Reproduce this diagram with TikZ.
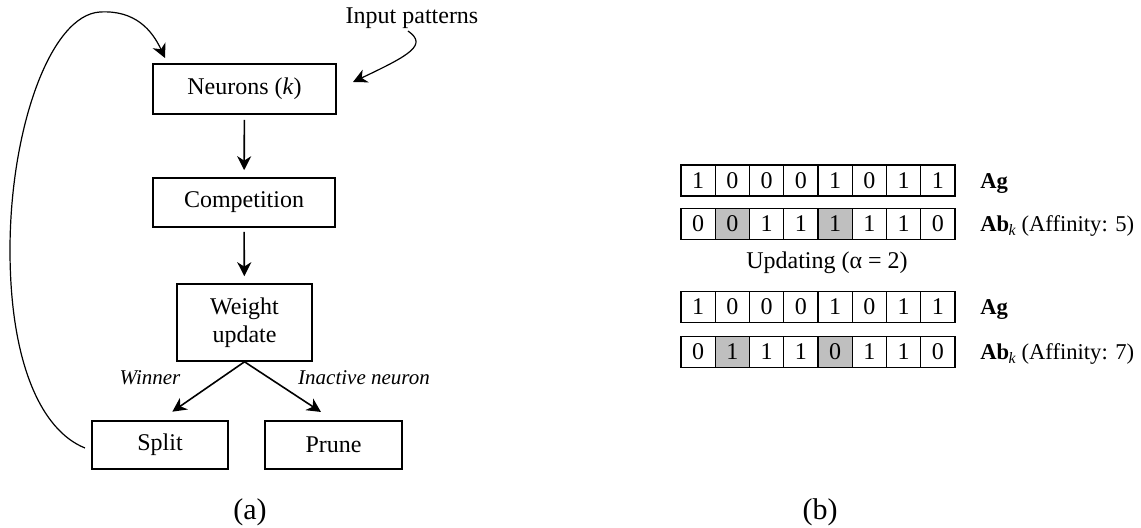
\documentclass[tikz,border=0pt]{standalone}
\usepackage{fontspec}
\setmainfont{Liberation Serif}
\usetikzlibrary{arrows.meta}
\begin{document}
\begin{tikzpicture}[x=0.5pt,y=-0.5pt,
  txt/.style={font=\fontsize{12pt}{14pt}\selectfont, inner sep=0pt},
  rlbl/.style={font=\fontsize{11.3pt}{13pt}\selectfont, inner sep=0pt, anchor=base west},
  box/.style={txt, draw, line width=0.8pt, align=center},
  lbl/.style={font=\fontsize{10.5pt}{12pt}\selectfont\itshape, inner sep=0pt},
  cell/.style={txt, draw, line width=0.7pt, minimum width=17.125pt, minimum height=15.5pt, outer sep=0pt},
  gcell/.style={cell, fill=black!25},
  arr/.style={line width=0.8pt, -{Stealth[length=7pt,width=7pt,inset=2.2pt]}},
  curv/.style={line width=0.6pt, -{Stealth[length=7pt,width=7pt,inset=2.2pt]}},
  captext/.style={font=\fontsize{15pt}{17pt}\selectfont, inner sep=0pt}
]
\useasboundingbox (0,0) rectangle (1141,528);

% ---- (a) flow chart ----
\node[box, minimum width=91.5pt, minimum height=25pt] (neu) at (244.5,89) {Neurons (\textit{k})};
\node[box, minimum width=91pt, minimum height=24.5pt] (comp) at (244,202.5) {Competition};
\node[box, minimum width=67.5pt, minimum height=38.5pt] (wu) at (244.5,322.5) {Weight\\update};
\node[box, minimum width=68pt, minimum height=24pt] (split) at (160,445) {Split};
\node[box, minimum width=68.5pt, minimum height=24pt] (prune) at (333.5,445) {Prune};

\node[txt] (inp) at (412,18) {Input patterns};
\coordinate (inpstart) at (408,31);
\coordinate (neutip) at (353,82);
\coordinate (splitstart) at (85,448);
\coordinate (looptip) at (165,58);

\draw[arr, shorten <=2.5pt, shorten >=3.5pt] (neu) -- (comp);
\draw[arr, shorten <=2pt, shorten >=3.5pt] (comp) -- (wu);
\draw[arr, shorten >=7.5pt] (wu.south) -- (split.north);
\draw[arr, shorten >=7.5pt] (wu.south) -- (prune.north);

\node[lbl] (win) at (150,378) {Winner};
\node[lbl] (inact) at (364,378) {Inactive neuron};

\draw[curv] (inpstart) .. controls (428,45) and (410,55) .. (neutip);
\draw[curv] (splitstart) .. controls (40,430) and (10,360) .. (10,250)
  .. controls (10,130) and (50,15) .. (100,12)
  .. controls (135,10) and (152,30) .. (looptip);

\node[captext] (capa) at (250,512) {(a)};

% ---- (b) bit strings ----
\foreach \v [count=\i] in {1,0,0,0,1,0,1,1}
  \node[cell] (r1c\i) at (663.875+34.25*\i,180.5) {\v};
\foreach \v/\s [count=\i] in {0/cell,0/gcell,1/cell,1/cell,1/gcell,1/cell,1/cell,0/cell}
  \node[\s] (r2c\i) at (663.875+34.25*\i,224) {\v};
\foreach \v [count=\i] in {1,0,0,0,1,0,1,1}
  \node[cell] (r3c\i) at (663.875+34.25*\i,307) {\v};
\foreach \v/\s [count=\i] in {0/cell,1/gcell,1/cell,1/cell,0/gcell,1/cell,1/cell,0/cell}
  \node[\s] (r4c\i) at (663.875+34.25*\i,352) {\v};

\node[rlbl] (ag1) at ([xshift=12.5pt]r1c8.base east) {\textbf{Ag}};
\node[rlbl] (ab1) at ([xshift=12.5pt]r2c8.base east) {\textbf{Ab}\kern-0.3pt\textsubscript{\textit{k}}\kern-0.5pt{} (Affinity: 5)};
\node[txt] (upd) at (827,263) {Updating (α = 2)};
\node[rlbl] (ag2) at ([xshift=12.5pt]r3c8.base east) {\textbf{Ag}};
\node[rlbl] (ab2) at ([xshift=12.5pt]r4c8.base east) {\textbf{Ab}\kern-0.3pt\textsubscript{\textit{k}}\kern-0.5pt{} (Affinity: 7)};

\node[captext] (capb) at (820,512) {(b)};
\end{tikzpicture}
\end{document}
